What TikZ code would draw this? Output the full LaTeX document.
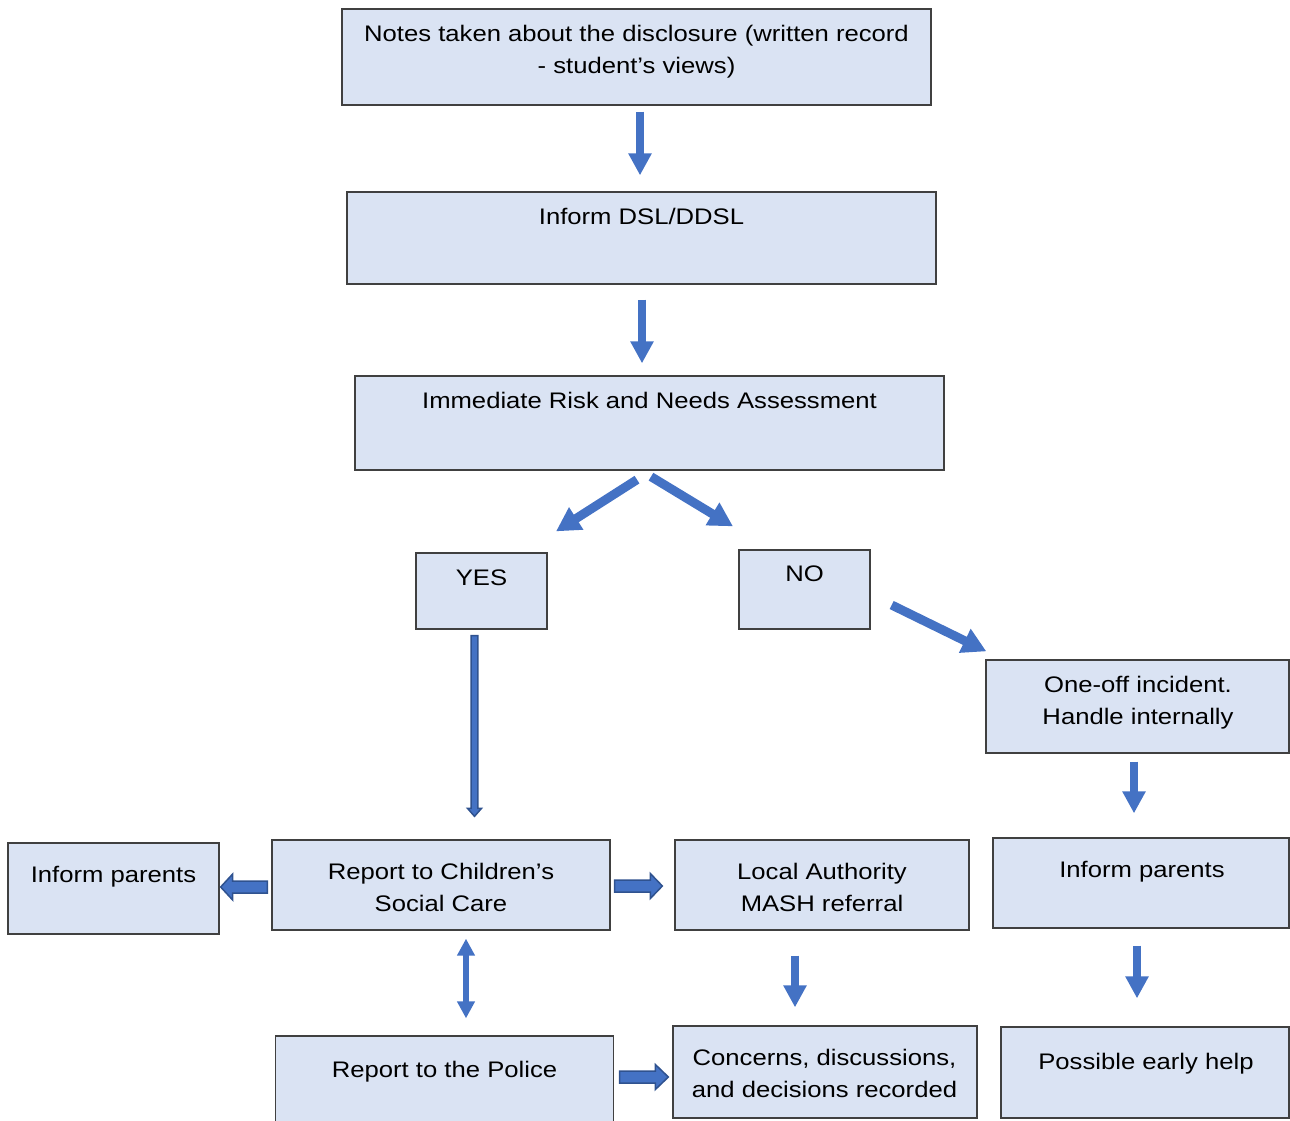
\documentclass[tikz,border=0pt]{standalone}
\usepackage{fontspec}
\setmainfont{Liberation Sans}[FakeStretch=1.14]
\usetikzlibrary{calc,arrows.meta}
\definecolor{boxfill}{HTML}{DAE3F3}
\definecolor{boxline}{HTML}{404040}
\definecolor{arrblue}{HTML}{4472C4}
\definecolor{arrdark}{HTML}{2F528F}
\newcommand\blockarr[6]{%
  \coordinate (hb) at ($(#3)!#6!(#2)$);
  \path[#1] ($(#2)!#4!90:(#3)$) -- ($(hb)!#4!-90:(#2)$) -- ($(hb)!#5!-90:(#2)$) -- (#3)
    -- ($(hb)!#5!90:(#2)$) -- ($(hb)!#4!90:(#2)$) -- ($(#2)!#4!-90:(#3)$) -- cycle;
}
\begin{document}
\begin{tikzpicture}[x=1pt,y=-1pt,
  box/.style={draw=boxline, line width=1.3pt, fill=boxfill, inner sep=0pt, minimum width=#1},
  txt/.style={inner sep=0pt, align=center, anchor=base, font=\fontsize{22.5}{32}\selectfont, text=black},
  bigarrow/.style={draw=arrblue, line width=8pt, -{Triangle[width=22pt,length=22pt]}},
  diagarrow/.style={draw=arrblue, line width=9pt, -{Triangle[width=25pt,length=24pt]}},
  outlined/.style={fill=arrblue, draw=arrdark, line width=1.5pt, line join=miter},
]
\useasboundingbox (0,0) rectangle (1290,1121);

% boxes
\node[box=589pt, minimum height=96pt] (b1) at (636.5,57) {};
\node[box=589pt, minimum height=92pt] (b2) at (641.5,238) {};
\node[box=589pt, minimum height=94pt] (b3) at (649.5,423) {};
\node[box=131pt, minimum height=76pt] (yes) at (481.5,591) {};
\node[box=131pt, minimum height=79pt] (no) at (804.5,589.5) {};
\node[box=303pt, minimum height=93pt] (oneoff) at (1137.5,706.5) {};
\node[box=211pt, minimum height=91pt] (ipl) at (113.5,888.5) {};
\node[box=338pt, minimum height=90pt] (csc) at (441,885) {};
\node[box=294pt, minimum height=90pt] (mash) at (822,885) {};
\node[box=296pt, minimum height=90pt] (ipr) at (1141,883) {};
\node[box=338pt, minimum height=90pt] (police) at (444.5,1081) {};
\node[box=304pt, minimum height=92pt] (rec) at (825,1072) {};
\node[box=288pt, minimum height=91pt] (help) at (1145,1072.5) {};

% texts (anchor base = baseline of the last line)
\node[txt] (t1) at ($(b1.north)+(0,65.5)$) {Notes taken about the disclosure (written record\\- student’s views)};
\node[txt] (t2) at ($(b2.north)+(0,33.5)$) {Inform DSL/DDSL};
\node[txt] (t3) at ($(b3.north)+(0,33.5)$) {Immediate Risk and Needs Assessment};
\node[txt] (tyes) at ($(yes.north)+(0,33.5)$) {YES};
\node[txt] (tno) at ($(no.north)+(0,32.5)$) {NO};
\node[txt] (toneoff) at ($(oneoff.north)+(0.5,65.5)$) {One-off incident.\\Handle internally};
\node[txt] (tipl) at ($(ipl.north)+(0,40.5)$) {Inform parents};
\node[txt] (tcsc) at ($(csc.north)+(0,72.5)$) {Report to Children’s\\Social Care};
\node[txt] (tmash) at ($(mash.north)+(0,72.5)$) {Local Authority\\MASH referral};
\node[txt] (tipr) at ($(ipr.north)+(1,40.5)$) {Inform parents};
\node[txt] (tpolice) at ($(police.north)+(0,42.5)$) {Report to the Police};
\node[txt] (trec) at ($(rec.north)+(-0.5,72.5)$) {Concerns, discussions,\\and decisions recorded};
\node[txt] (thelp) at ($(help.north)+(1,43.5)$) {Possible early help};

% plain arrows
\draw[bigarrow] ($(b1.south)+(3.5,6)$) -- ($(b2.north)+(-1.5,-16)$);
\draw[bigarrow] ($(b2.south)+(0.5,15)$) -- ($(b3.north)+(-7.5,-12)$);
\draw[diagarrow] ($(b3.south)+(-12.5,9)$) -- ($(yes.north)+(74.5,-21)$);
\draw[diagarrow] ($(b3.south)+(1.5,6)$) -- ($(no.north)+(-71.5,-23)$);
\draw[diagarrow] ($(no.east)+(21,15.5)$) -- ($(oneoff.north west)+(1,-8)$);
\draw[bigarrow] ($(mash.south)+(-27,25)$) -- ($(rec.north)+(-30,-18)$);
\draw[bigarrow] ($(oneoff.south)+(-3.5,8)$) -- ($(ipr.north)+(-7,-24)$);
\draw[bigarrow] ($(ipr.south)+(-4,17)$) -- ($(help.north)+(-8,-28)$);
\draw[draw=arrblue, line width=6pt, {Triangle[width=17pt,length=17pt]}-{Triangle[width=17pt,length=17pt]}]
  ($(csc.south)+(25,8)$) -- ($(police.north)+(21.5,-17)$);

% outlined block arrows
\coordinate (ya) at ($(yes.south)+(-7,6)$);
\coordinate (yb) at ($(csc.north)+(33.5,-23)$);
\blockarr{outlined}{ya}{yb}{3.3pt}{7pt}{8pt}
\coordinate (la) at ($(csc.west)+(-4,2)$);
\coordinate (lb) at ($(ipl.east)+(1,-1.5)$);
\blockarr{outlined}{la}{lb}{6pt}{13pt}{12pt}
\coordinate (ra) at ($(csc.east)+(4,1)$);
\coordinate (rb) at ($(mash.west)+(-12,1)$);
\blockarr{outlined}{ra}{rb}{6pt}{12.5pt}{12pt}
\coordinate (pa) at ($(police.east)+(5.5,-4)$);
\coordinate (pb) at ($(rec.west)+(-4,5)$);
\blockarr{outlined}{pa}{pb}{6pt}{12.5pt}{13pt}
\end{tikzpicture}
\end{document}
